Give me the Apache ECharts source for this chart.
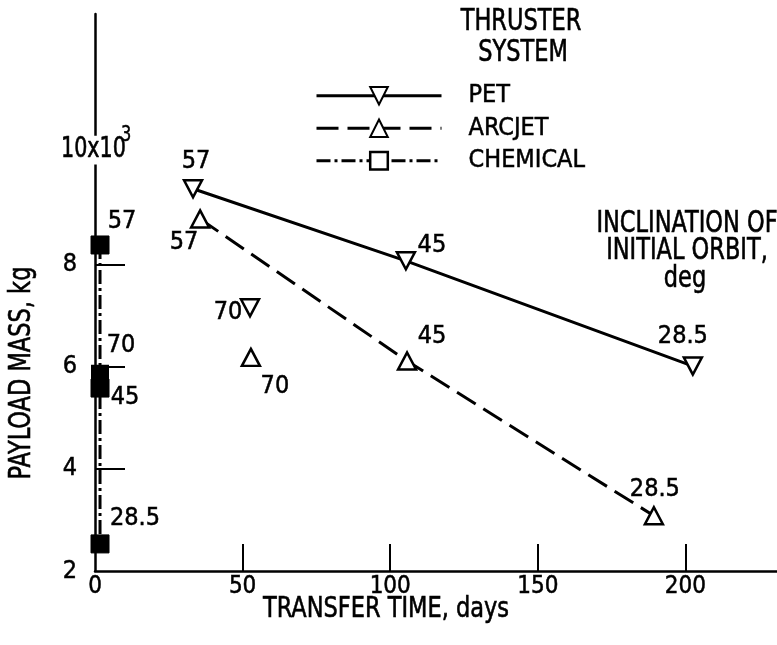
<!DOCTYPE html>
<html><head><meta charset="utf-8">
<script src="https://cdn.jsdelivr.net/npm/echarts@6/dist/echarts.min.js"></script>
<style>html,body{margin:0;padding:0;background:#fff}#c{width:777px;height:645px}</style>
</head><body><div id="c"></div>
<script>
const FONT = '"DejaVu Sans Condensed", "Liberation Sans Narrow", sans-serif';

// ---------- data ----------
const seriesNames = ['PET', 'ARCJET', 'CHEMICAL'];
const petTime = [33.2, 105.3, 202.5];
const petMass = [9.48, 8.07, 6.01];
const petIncl = ['57', '45', '28.5'];
const petExtraTime = [52.5];
const petExtraMass = [7.15];
const petExtraIncl = ['70'];
const arcTime = [35.6, 105.7, 189.3];
const arcMass = [8.89, 6.11, 3.08];
const arcIncl = ['57', '45', '28.5'];
const arcExtraTime = [52.8];
const arcExtraMass = [6.18];
const arcExtraIncl = ['70'];
const chemTime = [1.7, 1.7, 1.7];
const chemMass = [8.38, 5.58, 2.53];
const chemIncl = ['57', '45', '28.5'];
const chemExtraTime = [1.7];
const chemExtraMass = [5.86];
const chemExtraIncl = ['70'];
const xTickLabels = [0, 50, 100, 150, 200];
const xTickMarks = [50, 100, 150, 200];
const yTickLabels = [2, 4, 6, 8];
const yTickMarks = [4, 6, 8, 10];
const yTopLabelValue = 10;

// ---------- styles (label offsets in px, not data) ----------
const offPet = [[3, -27], [26, -15], [-10, -30]];
const offPetExtra = [[-22, 5]];
const offArc = [[-16, 24], [25, -24], [1, -26]];
const offArcExtra = [[24, 29]];
const offChem = [[22, -23], [25, 9], [35, -25]];
const offChemExtra = [[21, -28]];

function pts(times, masses, incl, offs) {
  return times.map((t, i) => ({
    name: incl[i],
    value: [t, masses[i]],
    label: { offset: offs[i] }
  }));
}

const labelStyle = {
  show: true, position: 'inside', formatter: '{b}',
  color: '#000', fontSize: 25, fontFamily: FONT,
  textBorderColor: '#000', textBorderWidth: 0.5
};
const hollow = { color: '#fff', borderColor: '#000', borderWidth: 2.5, opacity: 1 };
const triSize = [18, 17];

const chart = echarts.init(document.getElementById('c'));
const option = {
  animation: false,
  backgroundColor: '#fff',
  grid: { left: 95, right: 0, top: 14, bottom: 74, containLabel: false },
  legend: {
    data: [
      { name: 'PET' },
      { name: 'ARCJET' },
      { name: 'CHEMICAL', itemStyle: { color: '#fff', borderColor: '#000', borderWidth: 2.5 } }
    ],
    orient: 'vertical',
    left: 310, top: 78,
    itemWidth: 125, itemHeight: 22, itemGap: 7,
    lineStyle: { width: 3 },
    textStyle: { color: '#000', fontSize: 25, fontFamily: FONT, lineHeight: 24, padding: [0, 0, 0, 22],
                 textBorderColor: '#000', textBorderWidth: 0.5 },
    selectedMode: false
  },
  xAxis: {
    type: 'value', min: 0, max: 231,
    axisLine: { lineStyle: { color: '#000', width: 2.5 } },
    axisTick: { show: true, inside: true, length: 27, customValues: xTickMarks, lineStyle: { color: '#000', width: 2 } },
    axisLabel: { customValues: xTickLabels, margin: 4, color: '#000', fontSize: 24, fontFamily: FONT,
                 textBorderColor: '#000', textBorderWidth: 0.5 },
    splitLine: { show: false }
  },
  yAxis: {
    type: 'value', min: 2, max: 12.9,
    axisLine: { show: true, lineStyle: { color: '#000', width: 2.5 } },
    axisTick: { show: true, inside: true, length: 30, customValues: yTickMarks, lineStyle: { color: '#000', width: 2 } },
    axisLabel: { customValues: yTickLabels, margin: 18, color: '#000', fontSize: 25, fontFamily: FONT,
                 textBorderColor: '#000', textBorderWidth: 0.5 },
    splitLine: { show: false }
  },
  series: [
    {
      name: 'PET', type: 'line', data: pts(petTime, petMass, petIncl, offPet),
      symbol: 'triangle', symbolRotate: 180, symbolSize: triSize, showAllSymbol: true,
      lineStyle: { color: '#000', width: 3, type: 'solid' },
      itemStyle: hollow, label: labelStyle, z: 3
    },
    {
      name: 'PET 70', type: 'scatter', data: pts(petExtraTime, petExtraMass, petExtraIncl, offPetExtra),
      symbol: 'triangle', symbolRotate: 180, symbolSize: triSize,
      itemStyle: hollow, label: labelStyle, z: 3
    },
    {
      name: 'ARCJET', type: 'line', data: pts(arcTime, arcMass, arcIncl, offArc),
      symbol: 'triangle', symbolSize: triSize, showAllSymbol: true,
      lineStyle: { color: '#000', width: 3, type: [22, 9] },
      itemStyle: hollow, label: labelStyle, z: 3
    },
    {
      name: 'ARCJET 70', type: 'scatter', data: pts(arcExtraTime, arcExtraMass, arcExtraIncl, offArcExtra),
      symbol: 'triangle', symbolSize: triSize,
      itemStyle: hollow, label: labelStyle, z: 3
    },
    {
      name: 'CHEMICAL', type: 'line', data: pts(chemTime, chemMass, chemIncl, offChem),
      symbol: 'rect', symbolSize: [18, 18], showAllSymbol: true,
      lineStyle: { color: '#000', width: 3, type: [14, 4, 3, 4] },
      itemStyle: { color: '#000', borderColor: '#000', borderWidth: 1, opacity: 1 },
      label: labelStyle, z: 3
    },
    {
      name: 'CHEMICAL 70', type: 'scatter', data: pts(chemExtraTime, chemExtraMass, chemExtraIncl, offChemExtra),
      symbol: 'rect', symbolSize: [18, 18],
      itemStyle: { color: '#000', opacity: 1 }, label: labelStyle, z: 3
    }
  ]
};
chart.setOption(option);

const p10 = chart.convertToPixel({ gridIndex: 0 }, [0, yTopLabelValue]);
function txt(text, x, y, size, extra) {
  return Object.assign({
    type: 'text', x: x, y: y, scaleY: 1.2, z: 10,
    style: { text: text, font: size + 'px ' + FONT, fill: '#000', stroke: '#000', lineWidth: 0.5,
             textAlign: 'center', textVerticalAlign: 'middle' }
  }, extra || {});
}
chart.setOption({
  graphic: [
    txt('THRUSTER', 521, 22, 25),
    txt('SYSTEM', 523, 53, 25),
    txt('INCLINATION OF', 687, 224, 25),
    txt('INITIAL ORBIT,', 687, 251, 25),
    txt('deg', 685, 279, 25),
    txt('PAYLOAD MASS, kg', 22, 373, 25, { rotation: Math.PI / 2 }),
    txt('TRANSFER TIME, days', 386, 610, 25, { scaleY: 1.1 }),
    {
      type: 'text', x: p10[0] - 34, y: p10[1] - 12, z: 10, scaleY: 1.2,
      style: { text: '10x10', font: '23px ' + FONT, fill: '#000', stroke: '#000', lineWidth: 0.5,
               textAlign: 'left', textVerticalAlign: 'middle', backgroundColor: '#fff', padding: [1, 0, 0, 0] }
    },
    {
      type: 'text', x: p10[0] + 26, y: p10[1] - 27, z: 11, scaleY: 1.2,
      style: { text: '3', font: '18px ' + FONT, fill: '#000', stroke: '#000', lineWidth: 0.4,
               textAlign: 'left', textVerticalAlign: 'middle' }
    }
  ]
});
</script>
</body></html>
